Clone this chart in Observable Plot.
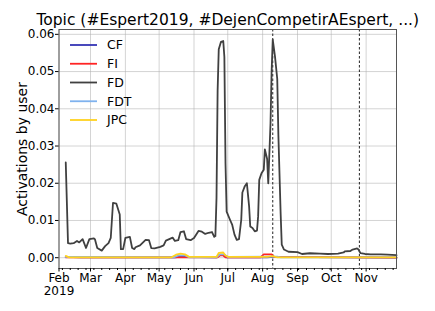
<!DOCTYPE html>
<html><head><meta charset="utf-8">
<script src="https://cdn.jsdelivr.net/npm/d3@7"></script>
<script src="https://cdn.jsdelivr.net/npm/@observablehq/plot@0.6"></script>
<style>body{margin:0;background:#fff;} #chart svg{font-family:"DejaVu Sans";}</style>
</head><body><div id="chart"></div>
<script>
const title = "Topic (#Espert2019, #DejenCompetirAEspert, ...)";
const yLabel = "Activations by user";
const seriesNames = ["CF", "FI", "FD", "FDT", "JPC"];
const seriesColors = ["#3535b5", "#ff2424", "#404040", "#7fb2ee", "#ffd21f"];
const yTicks = [0, 0.01, 0.02, 0.03, 0.04, 0.05, 0.06];
const monthTicks = ["2019-02-01","2019-03-01","2019-04-01","2019-05-01","2019-06-01","2019-07-01","2019-08-01","2019-09-01","2019-10-01","2019-11-01"];
const monthLabels = ["Feb\n2019","Mar","Apr","May","Jun","Jul","Aug","Sep","Oct","Nov"];
const xDomain = ["2019-02-01", "2019-11-28"];
const eventDates = ["2019-08-10", "2019-10-26"];

const fdDates = ["02-07","02-09","02-11","02-14","02-17","02-19","02-22","02-25","02-28","03-04","03-05","03-07","03-11","03-14","03-17","03-19","03-21","03-24","03-27","03-28","03-30","04-01","04-05","04-07","04-09","04-10","04-14","04-19","04-22","04-24","04-27","05-02","05-05","05-07","05-10","05-13","05-15","05-18","05-20","05-23","05-25","05-29","06-01","06-05","06-08","06-11","06-14","06-17","06-19","06-20","06-21","06-22","06-23","06-25","06-27","06-28","06-29","06-30","07-03","07-05","07-07","07-09","07-11","07-13","07-14","07-16","07-18","07-20","07-21","07-23","07-25","07-27","07-28","07-29","07-31","08-02","08-03","08-05","08-06","08-08","08-09","08-10","08-12","08-14","08-15","08-17","08-18","08-20","08-24","09-01","09-05","09-12","09-21","09-28","10-07","10-12","10-13","10-18","10-20","10-24","10-25","10-27","10-31","11-05","11-14","11-20","11-28"];
const fdValues = [0.0256,0.0039,0.0038,0.0039,0.0045,0.0041,0.0050,0.0026,0.0050,0.0052,0.0049,0.0026,0.0019,0.0031,0.0039,0.0053,0.0147,0.0145,0.0116,0.0023,0.0023,0.0053,0.0056,0.0026,0.0023,0.0028,0.0033,0.0048,0.0047,0.0026,0.0025,0.0029,0.0033,0.0046,0.0050,0.0054,0.0045,0.0047,0.0069,0.0071,0.0050,0.0047,0.0053,0.0072,0.0070,0.0064,0.0067,0.0069,0.0056,0.0058,0.0160,0.0450,0.0560,0.0580,0.0582,0.0539,0.0254,0.0124,0.0102,0.0088,0.0062,0.0048,0.0050,0.0102,0.0175,0.0191,0.0200,0.0137,0.0084,0.0080,0.0071,0.0073,0.0111,0.0209,0.0227,0.0236,0.0291,0.0265,0.0200,0.0360,0.0500,0.0586,0.0540,0.0480,0.0330,0.0120,0.0035,0.0022,0.0016,0.0015,0.0010,0.0012,0.0011,0.0010,0.0011,0.0014,0.0017,0.0018,0.0022,0.0025,0.0023,0.0012,0.0010,0.0009,0.0009,0.0008,0.0007];

const cfDates = ["02-07","02-20","05-15","05-20","06-21","06-23","06-27","06-30","08-05","08-11","11-28"];
const cfValues = [0.0002,0.0001,0.0001,0.0002,0.0001,0.0007,0.0007,0.0001,0.0001,0.0002,0.0000];
const fiDates = ["02-07","06-22","06-24","06-27","06-29","07-30","08-02","08-09","08-11","11-28"];
const fiValues = [0.0001,0.0001,0.0006,0.0006,0.0001,0.0001,0.0009,0.0009,0.0002,0.0000];
const fdtDates = ["02-07","05-14","05-18","05-24","05-28","06-21","06-24","06-28","07-01","08-08","08-14","08-17","11-28"];
const fdtValues = [0.0002,0.0001,0.0006,0.0006,0.0001,0.0001,0.0009,0.0009,0.0002,0.0003,0.0003,0.0001,0.0001];
const jpcDates = ["02-07","02-10","05-12","05-16","05-20","05-24","05-28","06-21","06-23","06-27","06-29","07-02","08-05","08-10","08-14","11-28"];
const jpcValues = [0.0005,0.0001,0.0001,0.0008,0.0011,0.0009,0.0002,0.0002,0.0013,0.0014,0.0006,0.0002,0.0002,0.0004,0.0001,0.0001];

const seriesData = {CF: [cfDates, cfValues], FI: [fiDates, fiValues], FD: [fdDates, fdValues], FDT: [fdtDates, fdtValues], JPC: [jpcDates, jpcValues]};
const parse = s => new Date(s.length === 5 ? "2019-" + s : s);
const rows = seriesNames.flatMap(name => {
  const [ds, vs] = seriesData[name];
  return ds.map((d, i) => ({series: name, date: parse(d), value: vs[i]}));
});
const labelMap = new Map(monthTicks.map((d, i) => [+parse(d), monthLabels[i]]));
const mondays = d3.utcMonday.range(parse("2019-02-01"), parse("2019-11-29"));

function legendMark(index, scales, values, dims) {
  const g = d3.create("svg:g").attr("font-size", 12.5).attr("font-family", "DejaVu Sans");
  seriesNames.forEach((name, i) => {
    const y = dims.marginTop + 16 + i * 18.75;
    const x0 = dims.marginLeft + 11.5;
    g.append("line").attr("x1", x0).attr("x2", x0 + 27).attr("y1", y).attr("y2", y)
      .attr("stroke", seriesColors[i]).attr("stroke-width", 1.8);
    g.append("text").attr("x", x0 + 37).attr("y", y).attr("dy", "0.35em")
      .attr("text-anchor", "start").attr("fill", "#000").text(name);
  });
  return g.node();
}

const chart = Plot.plot({
  width: 435, height: 311,
  marginLeft: 58.5, marginRight: 39, marginTop: 29, marginBottom: 43,
  style: {fontFamily: "DejaVu Sans", fontSize: "12px", background: "#fff", color: "#000"},
  x: {type: "utc", domain: xDomain.map(parse)},
  y: {domain: [-0.0029, 0.0613]},
  color: {domain: seriesNames, range: seriesColors},
  marks: [
    Plot.gridX(monthTicks.map(parse), {stroke: "#b0b0b0", strokeOpacity: 0.55}),
    Plot.gridY(yTicks, {stroke: "#b0b0b0", strokeOpacity: 0.55}),
    Plot.ruleX(eventDates.map(parse), {stroke: "#222", strokeDasharray: "2.5,2", strokeWidth: 1}),
    Plot.line(rows, {x: "date", y: "value", z: "series", stroke: "series", strokeWidth: 1.8, curve: "linear"}),
    Plot.frame({stroke: "#555", strokeWidth: 1}),
    Plot.axisY(yTicks, {tickFormat: d3.format(".2f"), tickSize: 3.5, tickPadding: 1, fontSize: 12, label: null}),
    Plot.axisX(monthTicks.map(parse), {tickFormat: d => labelMap.get(+d), tickSize: 3.5, tickPadding: 0.5, fontSize: 12, lineHeight: 1.1, label: null}),
    Plot.axisX(mondays, {tickSize: 2, text: null, label: null}),
    Plot.text([yLabel], {frameAnchor: "left", rotate: -90, dx: -36.8, fontSize: 14, textAnchor: "middle", lineAnchor: "middle"}),
    Plot.text([title], {frameAnchor: "top", dy: -5, fontSize: 15.5, lineAnchor: "bottom"}),
    legendMark
  ]
});
document.getElementById("chart").appendChild(chart);
</script>
</body></html>
